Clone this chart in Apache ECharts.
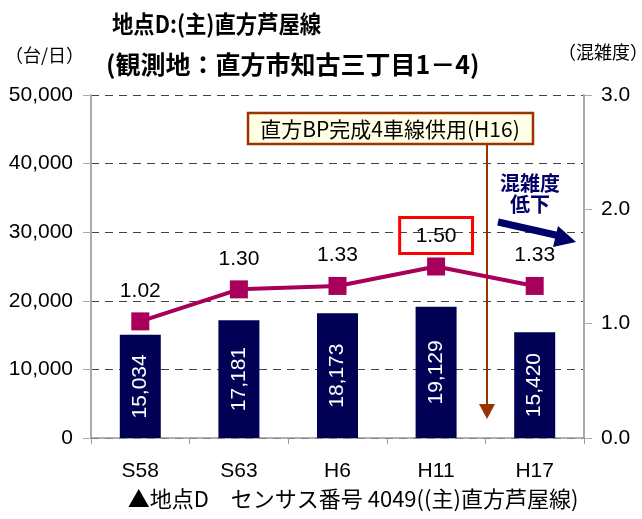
<!DOCTYPE html>
<html>
<head>
<meta charset="utf-8">
<script src="https://cdn.jsdelivr.net/npm/echarts@6/dist/echarts.min.js"></script>
<style>
  html, body { margin: 0; padding: 0; background: #fff; }
  #main { width: 642px; height: 519px; }
</style>
</head>
<body>
<div id="main"></div>
<script>
// 年次
var categories = ["S58", "S63", "H6", "H11", "H17"];
// 交通量（台/日）
var traffic = [15034, 17181, 18173, 19129, 15420];
// 混雑度
var congestion = [1.02, 1.30, 1.33, 1.50, 1.33];

var sans = "'Liberation Sans', Arial, sans-serif";
var jp = "'Noto Sans CJK JP', sans-serif";

var chart = echarts.init(document.getElementById("main"));

var option = {
  animation: false,
  grid: { left: 91, right: 58, top: 95, bottom: 81 },
  xAxis: {
    type: "category",
    data: categories,
    axisLine: { lineStyle: { color: "#999", width: 1.5 } },
    axisTick: { show: true, length: 6, lineStyle: { color: "#999" } },
    axisLabel: { color: "#000", fontSize: 21, fontFamily: sans, margin: 23 }
  },
  yAxis: [
    {
      type: "value",
      min: 0, max: 50000, interval: 10000,
      axisLine: { show: true, lineStyle: { color: "#aaa", width: 2 } },
      axisTick: { show: true, length: 8, lineStyle: { color: "#aaa" } },
      axisLabel: {
        color: "#000", fontSize: 21, fontFamily: sans, margin: 18,
        formatter: function (v) { return v.toLocaleString("en-US"); }
      },
      splitLine: { show: true, lineStyle: { color: "#444", type: [8, 6], width: 1 } }
    },
    {
      type: "value",
      min: 0, max: 3, interval: 1,
      axisLine: { show: true, lineStyle: { color: "#aaa", width: 2 } },
      axisTick: { show: true, length: 8, lineStyle: { color: "#aaa" } },
      axisLabel: {
        color: "#000", fontSize: 21, fontFamily: sans, margin: 17,
        formatter: function (v) { return v.toFixed(1); }
      },
      splitLine: { show: false }
    }
  ],
  series: [
    {
      type: "bar",
      data: traffic,
      barWidth: 41,
      itemStyle: { color: "#000055" },
      label: {
        show: true, position: "inside", rotate: 90,
        color: "#fff", fontSize: 21, fontFamily: sans,
        formatter: function (p) { return p.value.toLocaleString("en-US"); }
      }
    },
    {
      type: "line",
      yAxisIndex: 1,
      data: congestion.map(function (v, i) {
        var d = { value: v };
        if (i === 3) {
          // 1.50 を赤枠で囲む
          d.label = { borderColor: "#ff0000", borderWidth: 3, padding: [8, 16, 7, 16], distance: 4 };
        }
        return d;
      }),
      symbol: "rect",
      symbolSize: 18,
      lineStyle: { color: "#a8005a", width: 4 },
      itemStyle: { color: "#a8005a" },
      label: {
        show: true, position: "top", distance: 11,
        color: "#000", fontSize: 21, fontFamily: sans,
        formatter: function (p) { return p.value.toFixed(2); }
      },
      z: 5
    }
  ],
  graphic: [
    { type: "text", x: 112, y: 24, scaleX: 0.89, style: { text: "地点D:(主)直方芦屋線", font: "bold 24px " + jp, fill: "#000", verticalAlign: "middle" } },
    { type: "text", x: 106, y: 64, style: { text: "(観測地：直方市知古三丁目1－4)", font: "bold 25px " + jp, fill: "#000", verticalAlign: "middle" } },
    { type: "text", x: 5, y: 55, style: { text: "（台/日）", font: "18px " + jp, fill: "#000", verticalAlign: "middle" } },
    { type: "text", x: 558, y: 52, style: { text: "（混雑度）", font: "18px " + jp, fill: "#000", verticalAlign: "middle" } },
    // 直方BP 注記
    { type: "line", shape: { x1: 487, y1: 145, x2: 487, y2: 406 }, style: { stroke: "#993300", lineWidth: 2 } },
    { type: "polygon", shape: { points: [[479, 404], [495, 404], [487, 419]] }, style: { fill: "#993300" } },
    { type: "rect", shape: { x: 248, y: 113, width: 285, height: 31 }, style: { fill: "#ffffe6", stroke: "#993300", lineWidth: 2.5 }, z: 10 },
    { type: "text", x: 390, y: 129, z: 11, style: { text: "直方BP完成4車線供用(H16)", font: "21px " + jp, fill: "#000", align: "center", verticalAlign: "middle" } },
    // 混雑度低下
    { type: "text", x: 530, y: 194, z: 11, style: { text: "混雑度\n低下", font: "bold 20px " + jp, lineHeight: 21, fill: "#000066", align: "center", verticalAlign: "middle" } },
    { type: "line", shape: { x1: 498, y1: 222, x2: 560, y2: 236 }, style: { stroke: "#000066", lineWidth: 7 }, z: 11 },
    { type: "polygon", shape: { points: [[558, 226], [576, 242], [553, 247]] }, style: { fill: "#000066" }, z: 11 },
    // キャプション
    { type: "text", x: 353, y: 499, style: { text: "▲地点D　センサス番号 4049((主)直方芦屋線)", font: "22px " + jp, fill: "#000", align: "center", verticalAlign: "middle" } }
  ]
};

chart.setOption(option);
</script>
</body>
</html>
